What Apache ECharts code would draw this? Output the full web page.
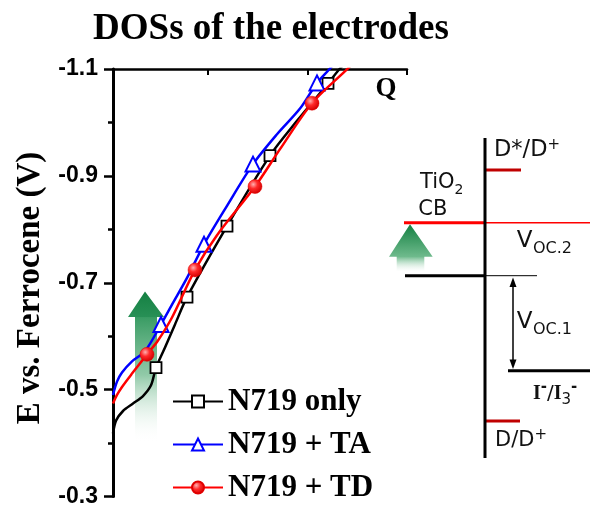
<!DOCTYPE html>
<html><head><meta charset="utf-8">
<script src="https://cdn.jsdelivr.net/npm/echarts@6/dist/echarts.min.js"></script>
<style>html,body{margin:0;padding:0;background:#fff}#c{width:590px;height:508px}</style>
</head><body><div id="c"></div>
<script>
// ---------- data ----------
const seriesNames = ['N719 only', 'N719 + TA', 'N719 + TD'];
const yTickValues = [-1.1, -0.9, -0.7, -0.5, -0.3];
const yMinorTickValues = [-1.0, -0.8, -0.6, -0.4];
const xTickValues = [0.95, 1.95, 2.94];

// curve points (without the marked points) : [Q, E]
const blackCurve = [[0.0,-0.418],[0.03,-0.442],[0.10,-0.460],[0.20,-0.474],[0.30,-0.488],[0.38,-0.508],
  [0.52,-0.579],[0.62,-0.622],[1.84,-1.003],[2.27,-1.101],[2.40,-1.125]];
const blueCurve = [[0.0,-0.490],[0.04,-0.515],[0.09,-0.532],[0.19,-0.553],[0.32,-0.572],
  [0.59,-0.659],[0.74,-0.709],[1.14,-0.844],[1.64,-0.978],[1.87,-1.026],[2.17,-1.101],[2.28,-1.127]];
const redCurve = [[0.0,-0.474],[0.04,-0.490],[0.09,-0.505],[0.19,-0.530],
  [0.45,-0.592],[0.59,-0.635],[1.04,-0.789],[1.67,-0.950],[2.35,-1.101],[2.47,-1.125]];

// marked points
const blackMarkers = [[0.43,-0.541],[0.74,-0.673],[1.14,-0.806],[1.57,-0.938],[2.15,-1.073]];
const blueMarkers  = [[0.48,-0.622],[0.91,-0.772],[1.40,-0.922],[2.04,-1.074]];
const redMarkers   = [[0.34,-0.566],[0.82,-0.724],[1.42,-0.880],[1.99,-1.036]];

// ---------- helpers ----------
function buildLine(curve, markers) {
  const pts = curve.map(p => ({ value: p, symbol: 'none' }))
    .concat(markers.map(p => ({ value: p })));
  pts.sort((a, b) => a.value[0] - b.value[0]);
  return pts;
}
const mctx = document.createElement('canvas').getContext('2d');
function fontStr(weight, size, fam) { return weight + ' ' + size + 'px "' + fam + '"'; }
function measure(text, font) { mctx.font = font; mctx.textBaseline = 'alphabetic'; return mctx.measureText(text).width; }
function midOffset(font, size) {
  mctx.font = font;
  mctx.textBaseline = 'alphabetic';
  const a = mctx.measureText('H').fontBoundingBoxAscent;
  mctx.textBaseline = 'middle';
  const b = mctx.measureText('H').fontBoundingBoxAscent;
  mctx.textBaseline = 'alphabetic';
  if (typeof a === 'number' && typeof b === 'number') return a - b;
  return 0.36 * size;
}
const SANS = 'DejaVu Sans';
const SERIF = 'Liberation Serif';
function runs(x, baseline, parts) {
  const out = [];
  let cx = x;
  parts.forEach(p => {
    const fam = p.family || SANS, weight = p.weight || 'normal';
    const f = fontStr(weight, p.size, fam);
    const by = baseline + (p.dy || 0);
    out.push({ type: 'text', x: cx, y: by - midOffset(f, p.size), z: 10, silent: true,
      style: { text: p.t, fill: '#111', fontSize: p.size, fontFamily: fam, fontWeight: weight,
        align: 'left', verticalAlign: 'middle' } });
    cx += measure(p.t, f) + (p.gap || 0);
  });
  return out;
}
function hline(x1, x2, y, w, color) {
  return { type: 'line', z: 5, silent: true, shape: { x1: x1, y1: y, x2: x2, y2: y }, style: { stroke: color, lineWidth: w } };
}
function greenArrow(apexX, apexY, headL, headR, headY, shaftL, shaftR, bottom, stops) {
  return { type: 'polygon', z: 0, silent: true,
    shape: { points: [[apexX, apexY], [headR, headY], [shaftR, headY], [shaftR, bottom], [shaftL, bottom], [shaftL, headY], [headL, headY]] },
    style: { fill: { type: 'linear', x: 0, y: 0, x2: 0, y2: 1, colorStops: stops } } };
}

const redBall = { type: 'radial', x: 0.38, y: 0.35, r: 0.65,
  colorStops: [{ offset: 0, color: '#ffb0b0' }, { offset: 0.45, color: '#ff2a2a' }, { offset: 1, color: '#d40000' }] };

// ---------- graphics (title, axis name, energy diagram) ----------
const graphics = [
  { type: 'text', x: 271, y: 29.5, z: 10, silent: true,
    style: { text: 'DOSs of the electrodes', fill: '#000', fontSize: 37, fontFamily: SERIF, fontWeight: 'bold', align: 'center', verticalAlign: 'middle' } },
  { type: 'text', x: 30, y: 288, rotation: Math.PI / 2, z: 10, silent: true,
    style: { text: 'E vs. Ferrocene (V)', fill: '#000', fontSize: 33, fontFamily: SERIF, fontWeight: 'bold', align: 'center', verticalAlign: 'middle' } },
  { type: 'text', x: 386, y: 89, z: 10, silent: true,
    style: { text: 'Q', fill: '#000', fontSize: 27, fontFamily: SERIF, fontWeight: 'bold', align: 'center', verticalAlign: 'middle' } },
  // arrow inside plot
  greenArrow(145, 291.5, 128, 164, 317, 135, 157, 443, [
    { offset: 0, color: 'rgb(20,128,66)' }, { offset: 0.168, color: 'rgb(40,144,86)' },
    { offset: 0.172, color: 'rgb(58,156,100)' }, { offset: 0.55, color: 'rgba(125,192,152,0.85)' },
    { offset: 1, color: 'rgba(255,255,255,0)' }]),
  // energy diagram
  { type: 'line', z: 6, silent: true, shape: { x1: 485, y1: 138, x2: 485, y2: 458 }, style: { stroke: '#000', lineWidth: 3 } },
  hline(486, 521, 170, 3, '#c00000'),
  hline(404, 485, 222.7, 3, '#ff0000'),
  hline(485, 590, 222.7, 1.5, '#ff0000'),
  hline(405, 485, 275.7, 3, '#000'),
  hline(485, 537, 275.7, 1, '#000'),
  hline(508, 590, 370.7, 3, '#000'),
  hline(486, 520, 421, 3, '#c00000'),
  greenArrow(410, 224.3, 389, 432.7, 256.7, 396.7, 424.3, 271.7, [
    { offset: 0, color: 'rgb(20,128,66)' }, { offset: 0.68, color: 'rgb(110,186,140)' },
    { offset: 1, color: 'rgba(255,255,255,0.2)' }]),
  { type: 'line', z: 6, silent: true, shape: { x1: 513, y1: 284, x2: 513, y2: 364 }, style: { stroke: '#000', lineWidth: 1.5 } },
  { type: 'polygon', z: 6, silent: true, shape: { points: [[513, 277.5], [509.5, 287], [516.5, 287]] }, style: { fill: '#000' } },
  { type: 'polygon', z: 6, silent: true, shape: { points: [[513, 369], [509.5, 359.5], [516.5, 359.5]] }, style: { fill: '#000' } }
]
.concat(runs(494, 155.7, [{ t: 'D*/D', size: 22.5 }, { t: '+', size: 15, dy: -7 }]))
.concat(runs(420, 188.3, [{ t: 'TiO', size: 21 }, { t: '2', size: 14, dy: 6 }]))
.concat(runs(418.3, 215, [{ t: 'CB', size: 21 }]))
.concat(runs(516.7, 246.7, [{ t: 'V', size: 23, gap: 0.5 }, { t: 'OC.2', size: 16, dy: 6 }]))
.concat(runs(516.7, 328.3, [{ t: 'V', size: 23, gap: 0.5 }, { t: 'OC.1', size: 16, dy: 6 }]))
.concat(runs(533, 399.3, [
  { t: 'I', size: 20, family: SERIF, weight: 'bold' }, { t: '-', size: 15, weight: 'bold', dy: -8 },
  { t: '/', size: 20 }, { t: 'I', size: 20, family: SERIF, weight: 'bold' },
  { t: '3', size: 15, dy: 5 }, { t: '-', size: 15, weight: 'bold', dy: -8 }]))
.concat(runs(495, 446, [{ t: 'D/D', size: 21 }, { t: '+', size: 15, dy: -7 }]));

// ---------- chart ----------
const chart = echarts.init(document.getElementById('c'), null, { renderer: 'canvas' });
const axisFont = { fontFamily: 'Liberation Sans', fontWeight: 'bold', fontSize: 23, color: '#000' };
chart.setOption({
  animation: false,
  backgroundColor: '#fff',
  grid: { left: 113, top: 69, right: 183, bottom: 7.3, containLabel: false },
  xAxis: {
    type: 'value', position: 'top', min: 0, max: 2.94,
    axisLine: { show: true, onZero: false, lineStyle: { color: '#000', width: 2.5 } },
    axisTick: { show: true, inside: true, length: 6, customValues: xTickValues, lineStyle: { color: '#000', width: 2 } },
    axisLabel: { show: false }, splitLine: { show: false }
  },
  yAxis: [
    {
      type: 'value', position: 'left', inverse: true, min: -1.1, max: -0.3,
      axisLine: { show: true, onZero: false, lineStyle: { color: '#000', width: 3 } },
      axisTick: { show: true, length: 9, customValues: yTickValues, lineStyle: { color: '#000', width: 2.5 } },
      axisLabel: Object.assign({ customValues: yTickValues, margin: 15, formatter: v => Number(v).toFixed(1) }, axisFont),
      splitLine: { show: false }
    },
    {
      type: 'value', position: 'left', inverse: true, min: -1.1, max: -0.3, offset: 0,
      axisLine: { show: false, onZero: false },
      axisTick: { show: true, length: 5, customValues: yMinorTickValues, lineStyle: { color: '#000', width: 2.5 } },
      axisLabel: { show: false }, splitLine: { show: false }
    }
  ],
  legend: {
    orient: 'vertical', left: 167, top: 381, itemWidth: 50, itemHeight: 15, itemGap: 12,
    selectedMode: false, data: seriesNames,
    textStyle: { fontFamily: SERIF, fontWeight: 'bold', fontSize: 31, lineHeight: 30, color: '#000' }
  },
  series: [
    { name: seriesNames[0], type: 'line', data: buildLine(blackCurve, blackMarkers), smooth: 0.3,
      symbol: 'rect', symbolSize: 11, showAllSymbol: true, clip: true, z: 3,
      lineStyle: { color: '#000', width: 2.5 }, itemStyle: { color: '#fff', borderColor: '#000', borderWidth: 1.8 },
      emphasis: { disabled: true } },
    { name: seriesNames[1], type: 'line', data: buildLine(blueCurve, blueMarkers), smooth: 0.3,
      symbol: 'triangle', symbolSize: 15, showAllSymbol: true, clip: true, z: 4,
      lineStyle: { color: '#0000ff', width: 2.5 }, itemStyle: { color: '#fff', borderColor: '#0000ff', borderWidth: 2 },
      emphasis: { disabled: true } },
    { name: seriesNames[2], type: 'line', data: buildLine(redCurve, redMarkers), smooth: 0.3,
      symbol: 'circle', symbolSize: 14, showAllSymbol: true, clip: true, z: 5,
      lineStyle: { color: '#ff0000', width: 2.5 }, itemStyle: { color: redBall, borderColor: '#e00000', borderWidth: 0.5 },
      emphasis: { disabled: true } }
  ],
  graphic: graphics
});
</script>
</body></html>
